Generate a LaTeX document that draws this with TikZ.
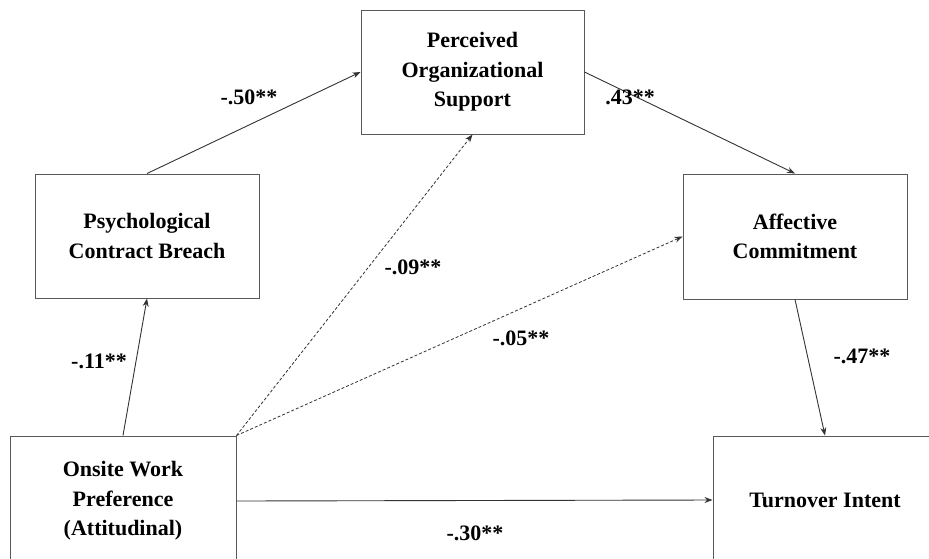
\documentclass[tikz,border=0pt]{standalone}
\usepackage{fontspec}
\setmainfont{Liberation Serif}
\usetikzlibrary{arrows.meta}
\begin{document}
\begin{tikzpicture}[x=1pt,y=-1pt,
  box/.style={draw=black!65,line width=1pt,fill=white,align=center,inner sep=0pt,
    font=\fontsize{22}{29.5}\selectfont\bfseries},
  conn/.style={draw=black!80,line width=0.9pt,-{Stealth[length=8pt,width=6pt]}},
  dconn/.style={conn,dash pattern=on 3pt off 2pt,line width=0.8pt},
  lab/.style={font=\fontsize{22}{24}\selectfont\bfseries,inner sep=0pt}]
\useasboundingbox (0,0) rectangle (929,558);
\clip (0,0) rectangle (929,558);
\fill[white] (0,0) rectangle (929,558);
\node[box,minimum width=226pt,minimum height=130pt] (ow) at (123,501) {Onsite Work\\Preference\\(Attitudinal)};
\node[box,minimum width=224pt,minimum height=128pt] (ti) at (825,500) {Turnover Intent};
\node[box,minimum width=224pt,minimum height=124pt] (pcb) at (147,236) {Psychological\\Contract Breach};
\node[box,minimum width=223pt,minimum height=124pt] (pos) at (472.5,72) {Perceived\\Organizational\\Support};
\node[box,minimum width=224pt,minimum height=125pt] (ac) at (795,236.5) {Affective\\Commitment};
\draw[conn] (ow.north) -- (pcb.south);
\draw[conn] (pcb.north) -- (pos.west);
\draw[conn] (pos.east) -- (ac.north);
\draw[conn] (ac.south) -- (ti.north);
\draw[conn] (ow.east) -- (ti.west);
\draw[dconn] (ow.north east) -- (pos.south);
\draw[dconn] (ow.north east) -- (ac.west);
\node[lab] (l1) at (249,97) {-.50**};
\node[lab] (l2) at (630,97) {.43**};
\node[lab] (l3) at (413,267) {-.09**};
\node[lab] (l4) at (521,338) {-.05**};
\node[lab] (l5) at (99,361) {-.11**};
\node[lab] (l6) at (862,356) {-.47**};
\node[lab] (l7) at (475,533) {-.30**};
\end{tikzpicture}
\end{document}
